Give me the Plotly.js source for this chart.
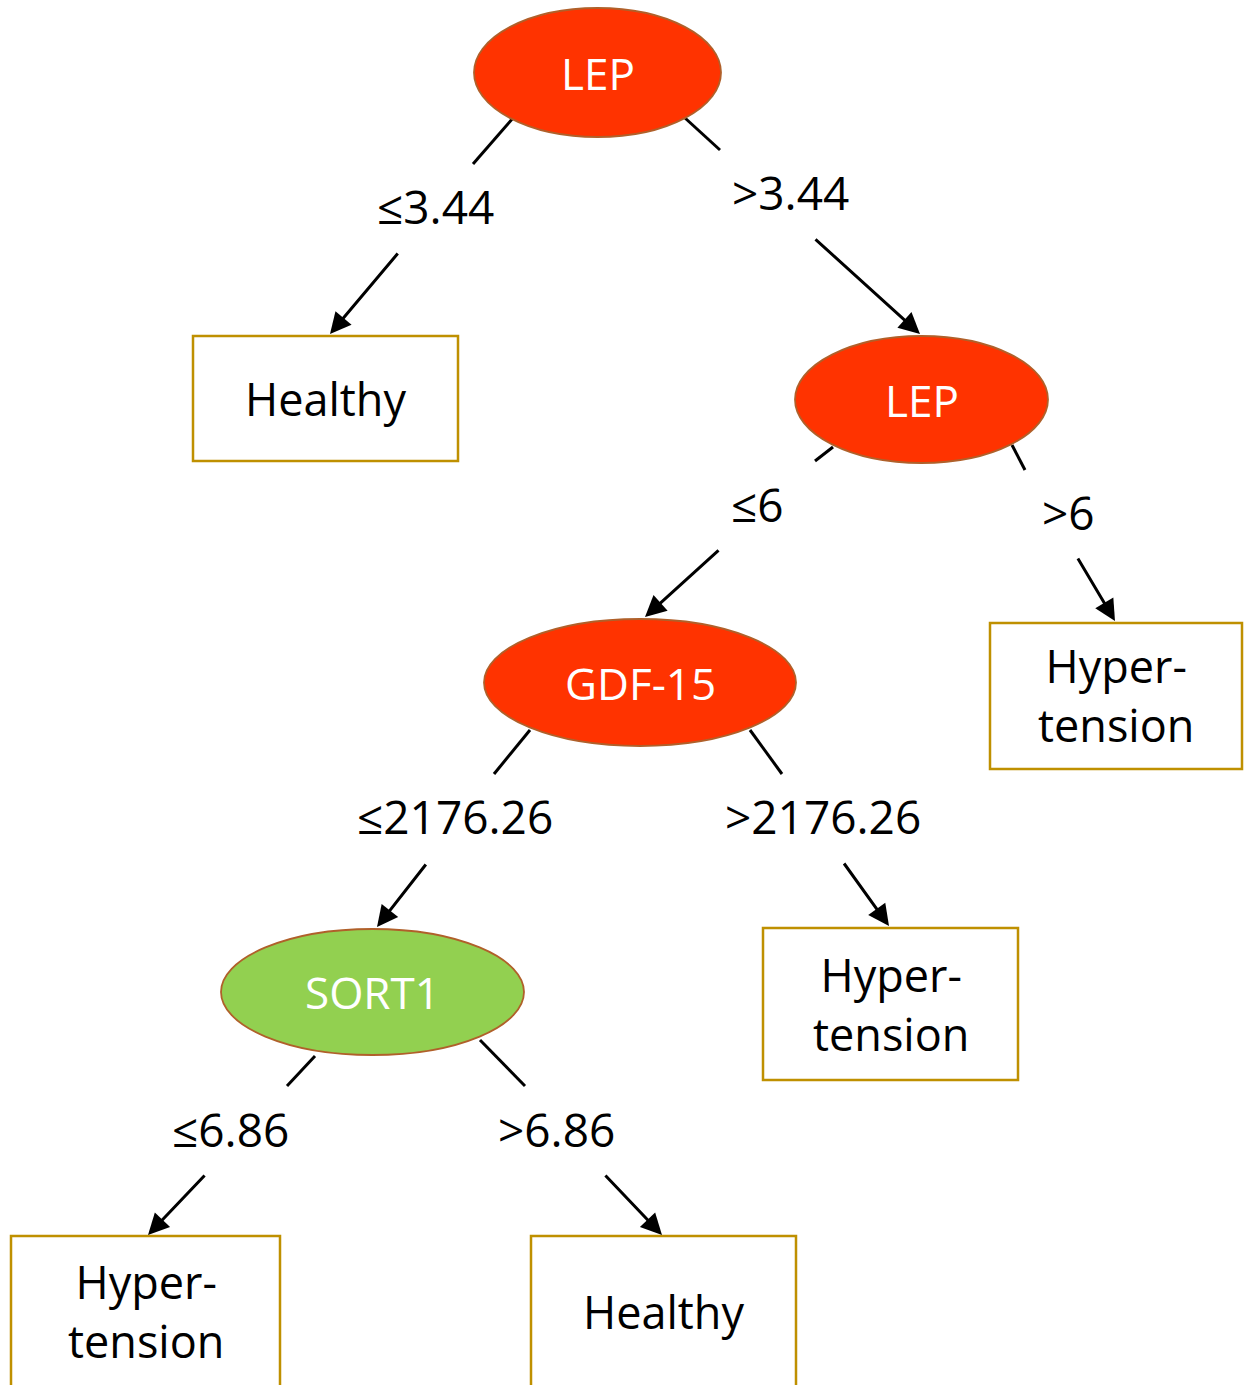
<!DOCTYPE html>
<html>
<head>
<meta charset="utf-8">
<script src="https://cdn.plot.ly/plotly-3.0.1.min.js"></script>
<style>html,body{margin:0;padding:0;background:#fff;}#chart{width:1244px;height:1385px;}</style>
</head>
<body>
<div id="chart"></div>
<script>
// ---- tree content ----
const splitNodes = ["LEP", "LEP", "GDF-15", "SORT1"];
const splitColors = ["#FF3300", "#FF3300", "#FF3300", "#92D050"];
const leafLabels = ["Healthy", "Hyper-<br>tension", "Hyper-<br>tension", "Hyper-<br>tension", "Healthy"];
const thresholds = ["3.44", "6", "2176.26", "6.86"];
const leftEdgeLabels = thresholds.map(t => "≤" + t);
const rightEdgeLabels = thresholds.map(t => ">" + t);

// ---- geometry (pixel space) ----
const ellipseBoxes = [[474, 8, 721, 137], [795, 336, 1048, 463], [484, 619, 796, 746], [221, 929, 524, 1055]];
const leafBoxes = [[193, 336, 458, 461], [990, 623, 1242, 769], [763, 928, 1018, 1080], [11, 1236, 280, 1400], [531, 1236, 796, 1400]];
const leafTextY = [398, 695, 1004, 1311, 1311];
const leftStubs = [[513, 118, 473, 164], [833, 447, 815, 461], [530, 730, 494, 774], [315, 1056, 287, 1086]];
const rightStubs = [[685, 118, 720, 150], [1012, 445, 1025, 470], [750, 730, 782, 774], [480, 1040, 525, 1086]];
const leftLabelPos = [[435, 206], [757, 504], [455, 816], [230, 1129]];
const rightLabelPos = [[790, 192], [1068, 512], [823, 816], [556, 1129]];
const leftArrows = [[399, 252, 330, 334], [720, 549, 645, 617], [427, 863, 377, 927], [206, 1174, 148, 1235]];
const rightArrows = [[814, 238, 920, 334], [1077, 557, 1115, 621], [843, 862, 889, 926], [604, 1174, 662, 1235]];

const FONT = "Open Sans, Noto Sans, sans-serif";
const shapes = [];
const annotations = [];

leftStubs.concat(rightStubs).forEach(s => {
  shapes.push({type: "line", xref: "x", yref: "y", x0: s[0], y0: s[1], x1: s[2], y1: s[3],
    line: {color: "#000", width: 3}, layer: "below"});
});

splitNodes.forEach((name, i) => {
  const b = ellipseBoxes[i];
  shapes.push({type: "circle", xref: "x", yref: "y", x0: b[0], y0: b[1], x1: b[2], y1: b[3],
    fillcolor: splitColors[i], line: {color: "#B0602A", width: 1.8}, layer: "above"});
  annotations.push({x: (b[0] + b[2]) / 2, y: (b[1] + b[3]) / 2, xref: "x", yref: "y", text: name,
    showarrow: false, font: {family: FONT, size: 44, color: "#fff"}, xanchor: "center", yanchor: "middle"});
});

leafLabels.forEach((lab, i) => {
  const b = leafBoxes[i];
  shapes.push({type: "rect", xref: "x", yref: "y", x0: b[0], y0: b[1], x1: b[2], y1: b[3],
    fillcolor: "rgba(0,0,0,0)", line: {color: "#BF9000", width: 2.5}});
  annotations.push({x: (b[0] + b[2]) / 2, y: leafTextY[i], xref: "x", yref: "y", text: lab,
    showarrow: false, font: {family: FONT, size: 45, color: "#000"}, xanchor: "center", yanchor: "middle"});
});

thresholds.forEach((t, i) => {
  annotations.push({x: leftLabelPos[i][0], y: leftLabelPos[i][1], xref: "x", yref: "y", text: leftEdgeLabels[i],
    showarrow: false, font: {family: FONT, size: 46, color: "#000"}, xanchor: "center", yanchor: "middle"});
  annotations.push({x: rightLabelPos[i][0], y: rightLabelPos[i][1], xref: "x", yref: "y", text: rightEdgeLabels[i],
    showarrow: false, font: {family: FONT, size: 46, color: "#000"}, xanchor: "center", yanchor: "middle"});
});

leftArrows.concat(rightArrows).forEach(a => {
  annotations.push({x: a[2], y: a[3], ax: a[0], ay: a[1], xref: "x", yref: "y", axref: "x", ayref: "y",
    text: "", showarrow: true, arrowhead: 2, arrowsize: 1.4, arrowwidth: 3, arrowcolor: "#000", standoff: 0});
});

const layout = {
  width: 1244, height: 1385,
  margin: {l: 0, r: 0, t: 0, b: 0},
  paper_bgcolor: "#fff", plot_bgcolor: "#fff",
  xaxis: {range: [0, 1244], visible: false, fixedrange: true},
  yaxis: {range: [1385, 0], visible: false, fixedrange: true},
  showlegend: false,
  shapes: shapes,
  annotations: annotations
};

Plotly.newPlot("chart", [{x: [], y: [], type: "scatter", hoverinfo: "skip"}], layout, {staticPlot: true, displayModeBar: false});
</script>
</body>
</html>
